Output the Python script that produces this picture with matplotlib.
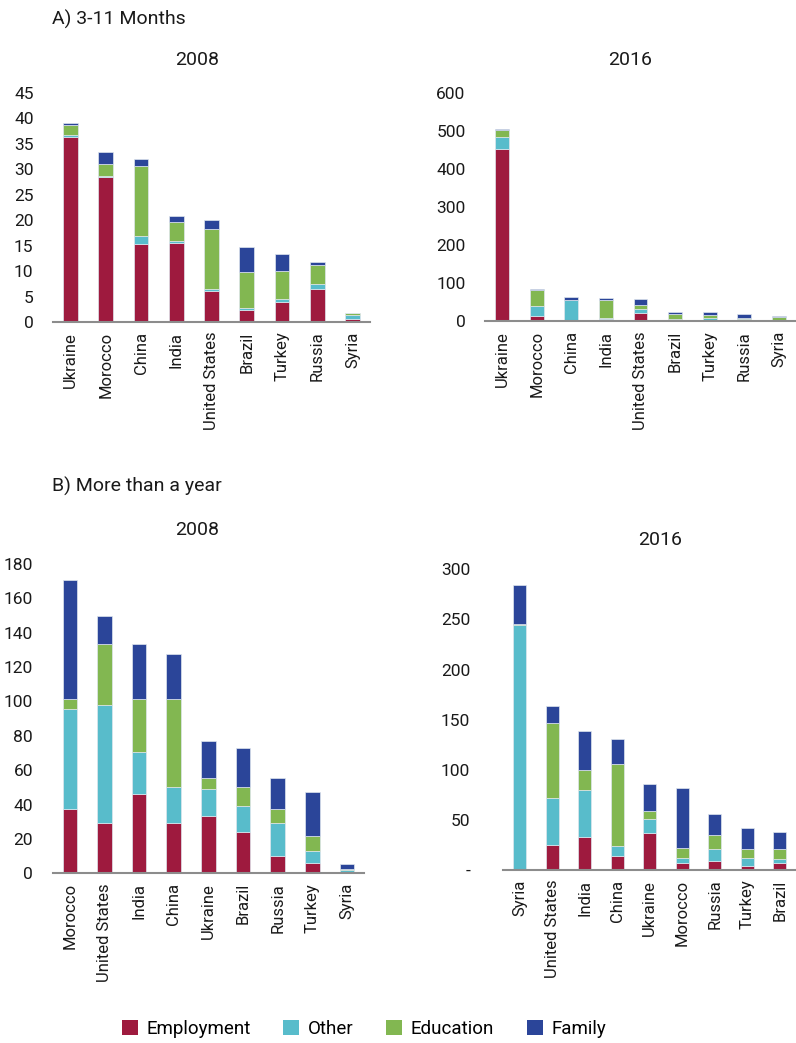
import matplotlib
matplotlib.use("Agg")
import matplotlib.pyplot as plt
from matplotlib.patches import Patch
import numpy as np

plt.rcParams['font.family'] = ['Roboto', 'DejaVu Sans']

series = ["Employment", "Other", "Education", "Family"]
colors = ["#9E1A3E", "#58BCCB", "#82B751", "#2B4599"]

# A) 3-11 months, 2008
a08_cat = ["Ukraine", "Morocco", "China", "India", "United States", "Brazil", "Turkey", "Russia", "Syria"]
a08_emp = [36.4, 28.5, 15.4, 15.6, 6.0, 2.3, 4.0, 6.5, 0.5]
a08_oth = [0.3, 0.2, 1.4, 0.3, 0.5, 0.4, 0.6, 0.9, 0.9]
a08_edu = [1.9, 2.3, 13.8, 3.8, 11.7, 7.2, 5.4, 3.8, 0.3]
a08_fam = [0.4, 2.3, 1.3, 1.2, 1.9, 4.8, 3.4, 0.6, 0.1]

# A) 3-11 months, 2016
a16_cat = ["Ukraine", "Morocco", "China", "India", "United States", "Brazil", "Turkey", "Russia", "Syria"]
a16_emp = [453, 15, 1, 5, 23, 2, 4, 3, 1]
a16_oth = [30, 26, 54, 3, 9, 3, 5, 3, 3]
a16_edu = [18, 40, 1, 47, 11, 13, 7, 3, 7]
a16_fam = [5, 4, 8, 7, 15, 7, 8, 10, 3]

# B) More than a year, 2008
b08_cat = ["Morocco", "United States", "India", "China", "Ukraine", "Brazil", "Russia", "Turkey", "Syria"]
b08_emp = [37.6, 29.1, 46.4, 29.3, 33.2, 24.0, 10.3, 6.2, 0.5]
b08_oth = [58.2, 68.6, 24.0, 20.7, 15.7, 15.0, 19.2, 6.8, 1.5]
b08_edu = [5.6, 35.9, 30.8, 51.2, 6.6, 11.4, 8.1, 8.7, 0.7]
b08_fam = [69.3, 16.1, 32.0, 26.6, 21.3, 22.5, 18.1, 25.8, 2.7]

# B) More than a year, 2016
b16_cat = ["Syria", "United States", "India", "China", "Ukraine", "Morocco", "Russia", "Turkey", "Brazil"]
b16_emp = [0, 25.3, 33.3, 14.3, 36.9, 6.7, 9.3, 4.3, 6.7]
b16_oth = [244, 46.9, 46.5, 9.3, 13.6, 5.3, 11.7, 7.7, 4.3]
b16_edu = [1, 74.1, 20.3, 82.5, 8.7, 9.6, 14.3, 9.3, 10.3]
b16_fam = [39, 17.3, 38.6, 24.9, 26.3, 60.2, 20.2, 20.6, 16.9]

W, H = 796, 1043
fig = plt.figure(figsize=(W / 100, H / 100), dpi=100)


def px_axes(left, right, bottom, top):
    return fig.add_axes([left / W, (H - bottom) / H, (right - left) / W, (bottom - top) / H])


def draw(ax, cats, vals, ymax, yticks, ylabels, width, ypad):
    x = np.arange(len(cats))
    bottom = np.zeros(len(cats))
    for v, c in zip(vals, colors):
        v = np.array(v, dtype=float)
        ax.bar(x, v, width, bottom=bottom, color=c, edgecolor="#dfe6ee", linewidth=0.5)
        bottom += v
    ax.set_xlim(-0.5, len(cats) - 0.5)
    ax.set_ylim(0, ymax)
    ax.set_yticks(yticks)
    ax.set_yticklabels(ylabels)
    ax.set_xticks(x)
    ax.set_xticklabels(cats, rotation=90)
    for s in ["top", "right", "left"]:
        ax.spines[s].set_visible(False)
    ax.spines["bottom"].set_color("#8c8c8c")
    ax.spines["bottom"].set_linewidth(1.5)
    ax.tick_params(axis="y", length=0, labelsize=12.5, colors="#1a1a1a", pad=ypad)
    ax.tick_params(axis="x", length=0, labelsize=12, colors="#1a1a1a", pad=7)
    ax.patch.set_visible(False)


ax1 = px_axes(53, 370, 322, 92.7)
draw(ax1, a08_cat, [a08_emp, a08_oth, a08_edu, a08_fam], 45,
     list(range(0, 46, 5)), [str(v) for v in range(0, 46, 5)], 0.42, 14)

ax2 = px_axes(485, 796, 321.3, 92.7)
draw(ax2, a16_cat, [a16_emp, a16_oth, a16_edu, a16_fam], 600,
     list(range(0, 601, 100)), [str(v) for v in range(0, 601, 100)], 0.40, 14)

ax3 = px_axes(52.5, 364.3, 873.3, 564)
draw(ax3, b08_cat, [b08_emp, b08_oth, b08_edu, b08_fam], 180,
     list(range(0, 181, 20)), [str(v) for v in range(0, 181, 20)], 0.42, 14)

ax4 = px_axes(503.4, 796, 870, 569.3)
draw(ax4, b16_cat, [b16_emp, b16_oth, b16_edu, b16_fam], 300,
     list(range(0, 301, 50)), ["-"] + [str(v) for v in range(50, 301, 50)], 0.39, 24)

def ftext(x, y, s, **kw):
    fig.text(x / W, 1 - y / H, s, **kw)

ftext(52, 19, "A) 3-11 Months", fontsize=14, ha="left", va="center", color="#1a1a1a")
ftext(197, 60, "2008", fontsize=14, ha="center", va="center", color="#1a1a1a")
ftext(630, 60, "2016", fontsize=14, ha="center", va="center", color="#1a1a1a")
ftext(52, 486, "B) More than a year", fontsize=14, ha="left", va="center", color="#1a1a1a")
ftext(197, 530, "2008", fontsize=14, ha="center", va="center", color="#1a1a1a")
ftext(660, 540, "2016", fontsize=14, ha="center", va="center", color="#1a1a1a")

handles = [Patch(facecolor=c, edgecolor="none", label=s) for s, c in zip(series, colors)]
fig.legend(handles=handles, loc="center", bbox_to_anchor=(364 / W, 1 - 1029 / H), ncol=4,
           frameon=False, fontsize=13.5, handlelength=0.85, handleheight=0.85,
           handletextpad=0.45, columnspacing=1.75)

fig.savefig("out.png", dpi=100)
